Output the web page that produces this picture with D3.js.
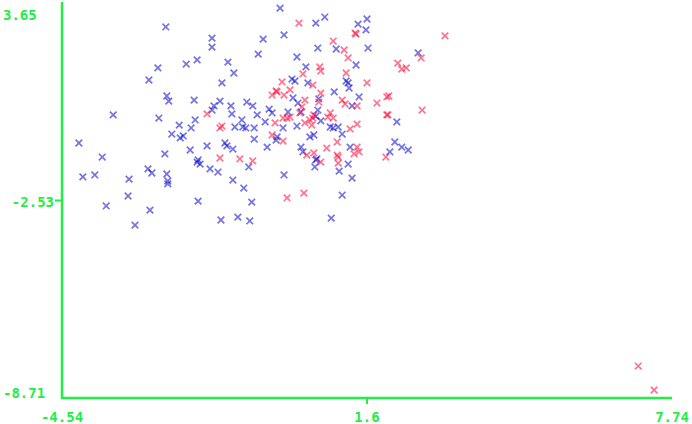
<!DOCTYPE html>
<html>
<head>
<meta charset="utf-8">
<script src="https://cdn.jsdelivr.net/npm/d3@7/dist/d3.min.js"></script>
<style>
    body { margin: 0; background: #fff; }
    .lbl { font-family: "DejaVu Sans Mono", monospace; font-weight: bold; font-size: 14px; fill: #22ee44; }
</style>
</head>
<body>
<div id="chart"></div>
<script>
//Datos
const xTicks = [-4.54, 1.6, 7.74];
const yTicks = [3.65, -2.53, -8.71];

const blueX = [-2.45,-2.61,-2.79,-2.04,-1.82,-2.43,-2.39,-1.88,-3.51,-2.59,-1.86,-4.20,-2.18,-1.94,-2.33,-2.10,-2.16,-1.96,-3.73,-2.47,
    -1.82,-4.12,-3.88,-2.81,-2.73,-3.19,-2.43,-2.41,-2.41,-3.21,-3.65,-2.77,-1.80,-3.07,-0.15,-0.07,-1.52,-1.52,-0.49,-0.59,
    -1.20,-1.08,0.19,-1.32,-1.36,-1.48,-1.52,-1.14,-1.12,-0.82,-0.70,-0.61,-0.37,-0.31,-0.45,-1.06,-0.92,-0.90,-0.84,-0.67,
    -0.67,-0.09,-0.21,-0.23,-1.62,-1.26,-1.22,-1.10,-0.41,-1.76,-1.56,-1.40,-0.78,-1.10,-0.88,-0.72,-0.07,-1.34,-1.00,-0.76,
    0.11,0.09,0.15,0.21,0.01,0.27,0.19,0.27,0.31,0.57,0.75,1.42,1.60,1.58,0.61,0.98,1.62,1.38,0.37,0.41,
    1.18,1.22,1.24,0.94,1.44,1.30,0.63,0.61,0.57,0.67,0.86,0.92,1.02,1.10,0.53,0.45,0.59,0.57,0.55,1.22,
    1.04,1.30,1.10,0.88,1.26,2.63,2.20,2.16,2.30,2.43,2.06,-1.80];
const blueY = [2.90,1.62,1.24,1.74,1.87,0.74,0.58,0.61,0.15,0.05,-0.01,-0.73,-0.17,-0.26,-0.45,-0.51,-0.57,-0.95,-1.17,-1.07,
    -1.33,-1.79,-1.73,-1.54,-1.67,-1.86,-1.70,-1.92,-2.01,-2.39,-2.70,-2.83,-2.55,-3.30,3.49,2.65,2.55,2.27,2.52,2.05,
    1.80,1.46,1.96,1.15,0.58,0.43,0.30,0.43,0.18,0.55,0.43,0.15,0.33,0.21,-0.07,-0.23,-0.01,-0.23,-0.26,-0.26,
    -0.61,-0.26,-0.54,-0.64,-0.82,-0.73,-0.82,-0.92,-0.86,-1.39,-1.54,-1.64,-1.48,-1.89,-2.14,-2.58,-1.73,-3.14,-3.05,-3.17,
    0.68,1.27,1.21,0.52,0.24,0.24,-0.20,-0.86,-1.01,3.02,3.21,2.99,3.15,2.81,2.24,2.21,2.24,1.71,1.65,1.15,
    1.21,1.15,0.99,0.87,0.71,0.43,0.65,0.30,0.11,-0.04,-0.23,-0.26,-0.23,-0.45,-0.48,-0.54,-1.23,-1.26,-1.48,-1.39,
    -1.61,-1.83,-2.36,-3.08,-0.86,2.09,-0.07,-0.70,-0.86,-0.95,-1.01,-1.26];

const redX = [0.23,-0.11,-0.23,-0.31,-0.07,0.05,-1.62,-1.36,-1.32,-0.25,-0.09,-0.01,0.05,-0.31,-0.09,-1.36,-0.96,-0.70,-0.01,0.33,
    0.31,1.38,0.92,1.14,1.22,0.65,0.67,1.18,0.51,0.67,1.60,0.35,0.63,1.10,1.16,1.40,1.80,2.00,2.00,0.25,
    0.53,0.86,0.92,0.81,0.45,0.35,1.26,1.40,1.00,0.79,1.40,1.44,1.34,0.39,0.53,0.67,1.00,1.02,1.02,1.98,
    3.17,2.69,2.22,2.30,2.39,2.04,2.71,2.02,7.06,7.38,0.51,0.49,0.29,1.36,-0.21];
const redY = [3.02,1.18,0.90,0.77,0.77,0.93,0.18,-0.26,-0.20,-0.10,0.05,0.05,0.08,-0.48,-0.67,-1.20,-1.23,-1.29,-2.45,-2.30,
    1.43,2.68,2.46,2.18,1.93,1.65,1.52,1.46,1.08,0.83,1.15,0.61,0.55,0.61,0.49,0.43,0.52,0.71,0.15,0.21,
    0.15,0.21,0.05,0.08,-0.01,-0.10,-0.29,-0.14,-0.70,-0.89,-0.86,-1.01,-1.07,-1.11,-1.04,-1.33,-1.11,-1.17,-1.36,-1.17,
    2.62,1.93,1.77,1.58,1.62,0.74,0.30,0.15,-7.71,-8.46,0.05,-0.17,0.40,2.71,0.87];

const COLOR_AXIS = '#22ee44',
    COLOR_BLUE = '#0000cc',
    COLOR_RED = '#ff0033';

let width = 692, height = 424;

let svg = d3.select('#chart')
    .append('svg')
        .attr('width', width)
        .attr('height', height);

let x = d3.scaleLinear()
    .domain([xTicks[0], xTicks[2]])
    .range([62, 672]);

let y = d3.scaleLinear()
    .domain([yTicks[2], yTicks[0]])
    .range([398, 3]);

//Puntos
let cross = 'M-3.3,-3.3L3.3,3.3M-3.3,3.3L3.3,-3.3';

function drawSeries(xs, ys, color) {
    svg.append('g')
        .selectAll('path')
        .data(xs.map(function(d, i) { return {x: d, y: ys[i]}; }))
        .enter()
        .append('path')
        .attr('d', cross)
        .attr('transform', function(d) { return 'translate(' + x(d.x) + ',' + y(d.y) + ')'; })
        .attr('fill', 'none')
        .attr('stroke', color)
        .attr('stroke-width', 1.7)
        .attr('stroke-opacity', 0.55);
}

drawSeries(blueX, blueY, COLOR_BLUE);
drawSeries(redX, redY, COLOR_RED);

//Ejes
let axes = svg.append('g');

axes.append('line')
    .attr('x1', x(xTicks[0])).attr('x2', x(xTicks[0]))
    .attr('y1', y(yTicks[0]) - 1).attr('y2', y(yTicks[2]) + 1)
    .attr('stroke', COLOR_AXIS).attr('stroke-width', 2.5);

axes.append('line')
    .attr('x1', x(xTicks[0]) - 1).attr('x2', x(xTicks[2]))
    .attr('y1', y(yTicks[2])).attr('y2', y(yTicks[2]))
    .attr('stroke', COLOR_AXIS).attr('stroke-width', 2.5);

//Marcas intermedias
axes.append('line')
    .attr('x1', x(xTicks[0]) - 7).attr('x2', x(xTicks[0]))
    .attr('y1', y(yTicks[1])).attr('y2', y(yTicks[1]))
    .attr('stroke', COLOR_AXIS).attr('stroke-width', 2);

axes.append('line')
    .attr('x1', x(xTicks[1])).attr('x2', x(xTicks[1]))
    .attr('y1', y(yTicks[2])).attr('y2', y(yTicks[2]) + 6)
    .attr('stroke', COLOR_AXIS).attr('stroke-width', 2);

//Etiquetas eje Y
axes.selectAll('.ylbl')
    .data(yTicks)
    .enter()
    .append('text')
    .attr('class', 'lbl ylbl')
    .attr('x', function(d, i) { return i == 1 ? 54 : 3; })
    .attr('y', function(d, i) {
        if (i == 0) return y(d) + 17;
        if (i == 1) return y(d) + 6;
        return y(d);
    })
    .attr('text-anchor', function(d, i) { return i == 1 ? 'end' : 'start'; })
    .text(function(d) { return d; });

//Etiquetas eje X
axes.selectAll('.xlbl')
    .data(xTicks)
    .enter()
    .append('text')
    .attr('class', 'lbl xlbl')
    .attr('x', function(d) { return x(d); })
    .attr('y', 422)
    .attr('text-anchor', 'middle')
    .text(function(d) { return d; });
</script>
</body>
</html>
